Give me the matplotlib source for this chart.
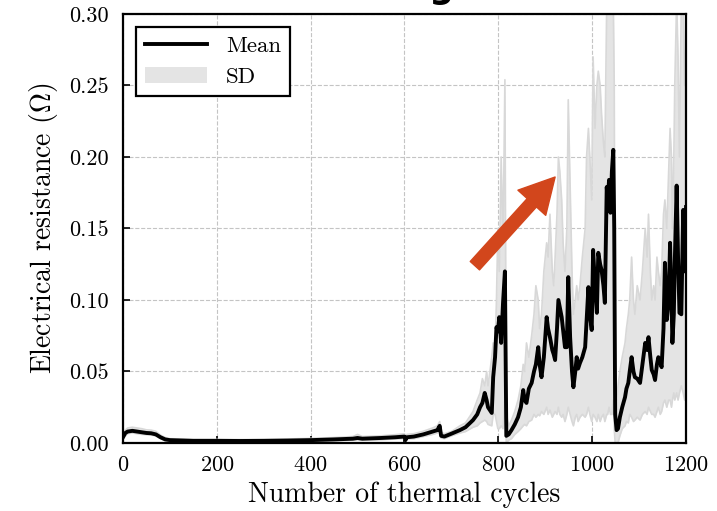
import matplotlib
matplotlib.use("Agg")
import matplotlib.pyplot as plt

plt.rcParams['font.family'] = 'cmr10'
plt.rcParams['mathtext.fontset'] = 'cm'
plt.rcParams['axes.formatter.use_mathtext'] = True

# cycles and resistance statistics
cycles = [0, 5, 10, 20, 30, 40, 50, 60, 70, 80, 90, 100, 150, 200, 250, 300, 350, 400,
          450, 490, 500, 510, 550, 580, 600, 602, 605, 620, 640, 660, 670, 675, 678, 685,
          700, 718, 730, 746, 755, 761, 766, 771, 775, 778, 786, 789, 793, 796, 799, 802,
          806, 810, 814, 817, 822, 828, 835, 842, 848, 853, 856, 860, 865, 871, 876, 880,
          885, 888, 892, 897, 903, 906, 910, 915, 918, 921, 925, 928, 931, 935, 938, 942,
          946, 949, 953, 957, 960, 964, 967, 970, 974, 979, 985, 988, 992, 995, 999, 1002,
          1006, 1010, 1013, 1017, 1020, 1024, 1027, 1031, 1033, 1036, 1039, 1042, 1045, 1047,
          1049, 1052, 1055, 1059, 1064, 1070, 1073, 1077, 1080, 1084, 1088, 1091, 1096, 1102,
          1107, 1113, 1117, 1120, 1124, 1127, 1131, 1134, 1138, 1141, 1145, 1148, 1152, 1155,
          1159, 1163, 1166, 1169, 1171, 1174, 1176, 1180, 1183, 1186, 1190, 1194, 1197, 1200]

mean = [0.004, 0.007, 0.008, 0.0085, 0.008, 0.0075, 0.007, 0.0068, 0.006, 0.004, 0.0025, 0.002,
        0.0015, 0.0015, 0.0014, 0.0015, 0.0017, 0.002, 0.0025, 0.003, 0.0035, 0.003, 0.0035,
        0.004, 0.0045, 0.002, 0.004, 0.0045, 0.006, 0.008, 0.009, 0.012, 0.005, 0.0045,
        0.0065, 0.009, 0.011, 0.016, 0.02, 0.025, 0.028, 0.035, 0.03, 0.025, 0.021, 0.046,
        0.06, 0.081, 0.078, 0.088, 0.07, 0.098, 0.12, 0.005, 0.006, 0.009, 0.013, 0.018,
        0.025, 0.037, 0.03, 0.028, 0.038, 0.042, 0.05, 0.055, 0.067, 0.055, 0.046, 0.06,
        0.088, 0.08, 0.074, 0.065, 0.062, 0.058, 0.08, 0.1, 0.095, 0.088, 0.079, 0.067,
        0.067, 0.116, 0.074, 0.05, 0.039, 0.05, 0.06, 0.052, 0.056, 0.06, 0.067, 0.085,
        0.109, 0.09, 0.079, 0.135, 0.11, 0.091, 0.133, 0.125, 0.121, 0.11, 0.098, 0.179,
        0.17, 0.184, 0.161, 0.19, 0.205, 0.15, 0.02, 0.009, 0.01, 0.018, 0.025, 0.032,
        0.038, 0.042, 0.05, 0.06, 0.05, 0.046, 0.045, 0.042, 0.055, 0.07, 0.065, 0.074,
        0.06, 0.051, 0.048, 0.044, 0.055, 0.06, 0.056, 0.053, 0.08, 0.126, 0.086, 0.1,
        0.14, 0.1, 0.07, 0.09, 0.126, 0.18, 0.13, 0.091, 0.09, 0.163, 0.12, 0.165]

sd_low = [0.003, 0.005, 0.0065, 0.007, 0.0065, 0.006, 0.0058, 0.0055, 0.005, 0.003, 0.0015,
          0.001, 0.0008, 0.0008, 0.0007, 0.0008, 0.001, 0.0012, 0.0015, 0.002, 0.0022, 0.002,
          0.0022, 0.0028, 0.003, 0.001, 0.0028, 0.003, 0.0045, 0.006, 0.007, 0.009, 0.0035,
          0.003, 0.005, 0.007, 0.008, 0.011, 0.012, 0.014, 0.015, 0.016, 0.015, 0.013, 0.012,
          0.02, 0.02, 0.015, 0.01, 0.01, 0.012, 0.01, 0.03, 0.0, 0.002, 0.003, 0.006, 0.008,
          0.01, 0.012, 0.013, 0.012, 0.015, 0.016, 0.02, 0.018, 0.02, 0.019, 0.022, 0.02,
          0.025, 0.02, 0.023, 0.018, 0.02, 0.022, 0.02, 0.025, 0.02, 0.018, 0.02, 0.015,
          0.02, 0.025, 0.02, 0.015, 0.012, 0.018, 0.02, 0.015, 0.018, 0.02, 0.018, 0.02,
          0.025, 0.02, 0.015, 0.02, 0.018, 0.015, 0.02, 0.015, 0.018, 0.02, 0.015, 0.02,
          0.02, 0.025, 0.02, 0.02, 0.03, 0.01, 0.0, 0.0, 0.0, 0.005, 0.01, 0.012,
          0.015, 0.014, 0.02, 0.018, 0.015, 0.016, 0.018, 0.016, 0.02, 0.022, 0.02, 0.025,
          0.022, 0.02, 0.02, 0.018, 0.022, 0.025, 0.02, 0.022, 0.028, 0.03, 0.025, 0.03,
          0.03, 0.025, 0.03, 0.035, 0.03, 0.035, 0.03, 0.035, 0.04, 0.035, 0.03, 0.04]

sd_high = [0.005, 0.009, 0.0105, 0.011, 0.0105, 0.01, 0.0092, 0.009, 0.0082, 0.0055, 0.0038,
           0.003, 0.0025, 0.0025, 0.0024, 0.0025, 0.0028, 0.0032, 0.0038, 0.0045, 0.006, 0.0045,
           0.005, 0.0058, 0.0065, 0.004, 0.006, 0.0065, 0.0082, 0.0105, 0.012, 0.015, 0.0075,
           0.0065, 0.008, 0.012, 0.014, 0.022, 0.03, 0.035, 0.045, 0.04, 0.05, 0.04, 0.06,
           0.07, 0.065, 0.1, 0.15, 0.12, 0.2, 0.14, 0.254, 0.02, 0.012, 0.016, 0.022, 0.03,
           0.04, 0.055, 0.05, 0.07, 0.06, 0.075, 0.09, 0.11, 0.1, 0.08, 0.09, 0.12,
           0.14, 0.13, 0.16, 0.12, 0.11, 0.13, 0.16, 0.2, 0.19, 0.17, 0.14, 0.12,
           0.15, 0.24, 0.18, 0.12, 0.09, 0.1, 0.11, 0.1, 0.11, 0.13, 0.15, 0.2,
           0.22, 0.2, 0.17, 0.27, 0.22, 0.25, 0.26, 0.25, 0.23, 0.21, 0.2, 0.31,
           0.32, 0.33, 0.3, 0.32, 0.31, 0.25, 0.05, 0.03, 0.04, 0.05, 0.06, 0.07,
           0.08, 0.09, 0.1, 0.13, 0.1, 0.09, 0.11, 0.1, 0.12, 0.15, 0.13, 0.16,
           0.12, 0.1, 0.11, 0.1, 0.13, 0.12, 0.11, 0.12, 0.16, 0.17, 0.15, 0.19,
           0.22, 0.2, 0.15, 0.2, 0.25, 0.31, 0.27, 0.2, 0.31, 0.3, 0.25, 0.28]

fig = plt.figure(figsize=(7.17, 5.11), dpi=100)
ax = fig.add_axes([0.1715, 0.1331, 0.7853, 0.8395])

ax.fill_between(cycles, sd_low, sd_high, color='#e4e4e4', lw=0, label='SD', zorder=1)
ax.plot(cycles, sd_low, color='#d8d8d8', lw=1.2, zorder=1.5)
ax.plot(cycles, sd_high, color='#d8d8d8', lw=1.2, zorder=1.5)
ax.plot(cycles, mean, color='black', lw=2.8, label='Mean', zorder=3)

ax.annotate('', xy=(921, 0.186), xytext=(750, 0.124),
            arrowprops=dict(arrowstyle='simple,head_length=1.25,head_width=1.35,tail_width=0.45',
                            color='#d2461c', mutation_scale=20, shrinkA=0, shrinkB=0),
            zorder=5)

ax.set_xlim(0, 1200)
ax.set_ylim(0, 0.30)
ax.set_xticks([0, 200, 400, 600, 800, 1000, 1200])
ax.set_yticks([0.0, 0.05, 0.10, 0.15, 0.20, 0.25, 0.30])
ax.set_yticklabels(['0.00', '0.05', '0.10', '0.15', '0.20', '0.25', '0.30'])
ax.tick_params(direction='in', labelsize=16, length=5, width=1.2, pad=10)
ax.tick_params(axis='x', pad=9)
ax.grid(True, ls='--', color='#c4c4c4', lw=0.8)
ax.set_axisbelow(True)
for s in ax.spines.values():
    s.set_linewidth(1.6)

ax.set_xlabel('Number of thermal cycles', fontsize=20, labelpad=5)
ax.set_ylabel(r'Electrical resistance ($\Omega$)', fontsize=20, labelpad=7)

handles, labels = ax.get_legend_handles_labels()
leg = ax.legend(handles[::-1], labels[::-1], loc='upper left', fontsize=16.5,
                fancybox=False, framealpha=1, edgecolor='black', borderaxespad=0.55,
                handlelength=2.7, handletextpad=0.85)
leg.get_frame().set_linewidth(1.6)

# title cut off by the figure edge, only the descender shows
fig.text(455 / 717, 1.004, 'Bending', fontsize=25, fontweight='bold',
         family='DejaVu Sans', ha='right', va='baseline')

fig.savefig('out.png', dpi=100)
